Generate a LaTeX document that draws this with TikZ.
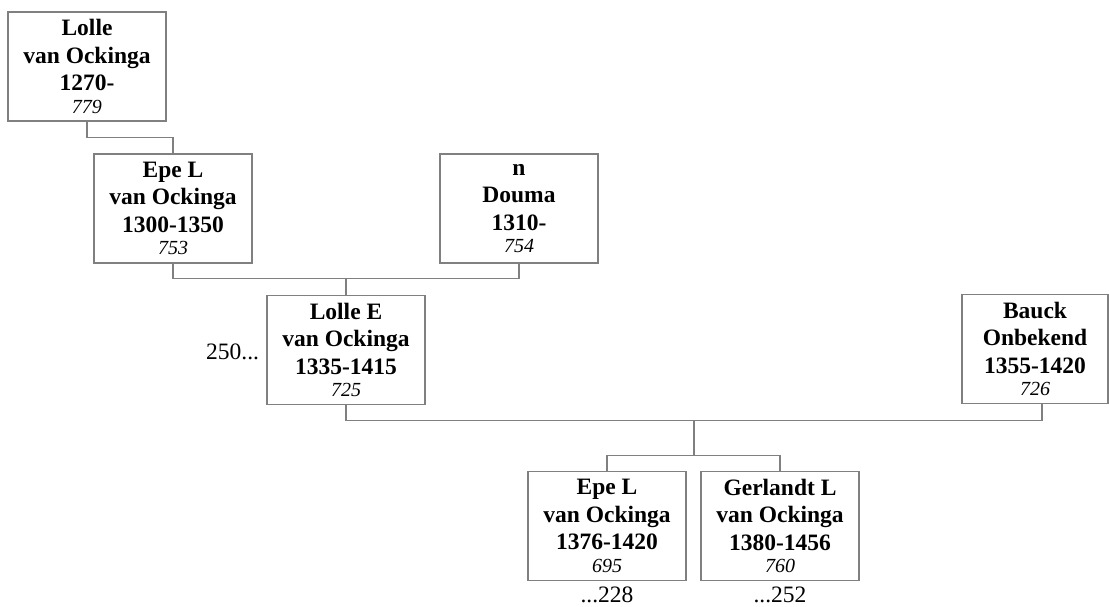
\documentclass[tikz,border=0pt]{standalone}
\usepackage{fontspec}
\setmainfont{Liberation Serif}
\usetikzlibrary{calc}
\definecolor{framegray}{RGB}{128,128,128}
\newcommand{\pers}[4]{#1\\#2\\#3\\[-5pt]{\fontsize{20}{23}\selectfont\mdseries\itshape #4}}

\begin{document}
\begin{tikzpicture}[x=1pt,y=-1pt,line cap=butt,
  person/.style={draw=framegray,line width=1.5pt,fill=white,minimum width=158pt,minimum height=109pt,inner sep=0pt,align=center,font=\fontsize{23.5}{27.5}\selectfont\bfseries},
  link/.style={draw=framegray,line width=1.3pt},
  note/.style={font=\fontsize{23.5}{27.5}\selectfont,inner sep=0pt}]
  \useasboundingbox (0,0) rectangle (1109,606);
  % the people, generation by generation
  \node[person] (lolle) at (87,66.5) {\pers{Lolle}{van Ockinga}{1270-}{779}};
  \node[person] (epe) at (173,208.5) {\pers{Epe L}{van Ockinga}{1300-1350}{753}};
  \node[person] (douma) at (519,208.5) {\pers{n}{Douma}{1310-}{754}};
  \node[person] (lolleE) at (346,350) {\pers{Lolle E}{van Ockinga}{1335-1415}{725}};
  \node[person,minimum width=146pt] (bauck) at (1035,349) {\pers{Bauck}{Onbekend}{1355-1420}{726}};
  \node[person] (epeII) at (607,526) {\pers{Epe L}{van Ockinga}{1376-1420}{695}};
  \node[person] (gerlandt) at (780,526) {\pers{Gerlandt L}{van Ockinga}{1380-1456}{760}};
  % references to other pages
  \node[note,anchor=east,xshift=-7pt,yshift=-2pt] (refA) at (lolleE.west) {250...};
  \node[note,anchor=north,yshift=-5pt] (refB) at (epeII.south) {...228};
  \node[note,anchor=north,yshift=-5pt] (refC) at (gerlandt.south) {...252};
  % connectors
  \draw[link] (lolle.south) -- ++(0,16) -| (epe.north);
  \draw[link] (epe.south) -- ++(0,15) coordinate (barA) -| (douma.south);
  \coordinate (dropA) at ($(barA)!0.5!(barA -| douma.south)$);
  \draw[link] (dropA) -- (lolleE.north);
  \coordinate (bfoot) at ([xshift=7pt]bauck.south);
  \draw[link] (lolleE.south) -- ++(0,15) coordinate (barB) -| (bfoot);
  \coordinate (dropB) at ($(barB)!0.5!(barB -| bfoot)$);
  \draw[link] (dropB) -- ++(0,35) coordinate (kids);
  \draw[link] (epeII.north) |- (kids) -| (gerlandt.north);
\end{tikzpicture}
\end{document}
